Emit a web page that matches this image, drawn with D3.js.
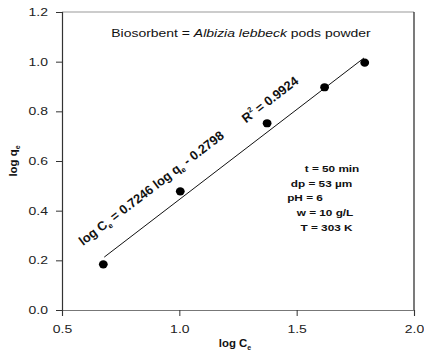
<!DOCTYPE html>
<html>
<head>
<meta charset="utf-8">
<script src="https://cdn.jsdelivr.net/npm/d3@7"></script>
<style>
  html, body { margin: 0; padding: 0; background: #fff; }
  svg { display: block; font-family: "Liberation Sans", Arial, sans-serif; }
</style>
</head>
<body>
<svg id="chart" width="424" height="356"></svg>
<script>
// Freundlich isotherm data: log Ce vs log qe
const logCe = [0.676, 1.004, 1.374, 1.619, 1.790];
const logQe = [0.184, 0.478, 0.752, 0.897, 0.996];

// Linear fit parameters as stated in the equation label
const fitSlope = 0.7246;
const fitIntercept = -0.2798;
const fitR2 = 0.9924;
const fitRange = [0.68, 1.787];

const xTicks = [0.5, 1.0, 1.5, 2.0];
const yTicks = [0.0, 0.2, 0.4, 0.6, 0.8, 1.0, 1.2];

const conditions = ["t = 50 min", "dp = 53 \u00b5m", "pH = 6", "w = 10 g/L", "T = 303 K"];

const svg = d3.select("#chart");
const margin = { left: 62, right: 10, top: 12, bottom: 46 };
const W = 424, H = 356;
const SX = 1.37; // horizontal stretch used for the in-plot lettering

const x = d3.scaleLinear().domain([0.5, 2.0]).range([margin.left, W - margin.right]);
const y = d3.scaleLinear().domain([0.0, 1.2]).range([H - margin.bottom, margin.top]);

// Frame: top edge light grey, right edge dark
svg.append("line")
  .attr("x1", x(0.5)).attr("x2", x(2.0))
  .attr("y1", y(1.2)).attr("y2", y(1.2))
  .attr("stroke", "#999").attr("stroke-width", 1);
svg.append("line")
  .attr("x1", x(2.0)).attr("x2", x(2.0))
  .attr("y1", y(1.2)).attr("y2", y(0))
  .attr("stroke", "#222").attr("stroke-width", 1.2);

// Axes
const xAxis = svg.append("g")
  .attr("transform", `translate(0,${y(0)})`)
  .call(d3.axisBottom(x).tickValues(xTicks).tickFormat(d3.format(".1f")).tickSize(6));
const yAxis = svg.append("g")
  .attr("transform", `translate(${x(0.5)},0)`)
  .call(d3.axisLeft(y).tickValues(yTicks).tickFormat(d3.format(".1f")).tickSize(6));

[xAxis, yAxis].forEach(g => {
  g.selectAll(".tick line").attr("stroke", "#333").attr("stroke-width", 1);
  g.selectAll(".tick text")
    .attr("fill", "#222")
    .style("font-family", "'Liberation Sans', Arial, sans-serif")
    .style("font-size", "10.2px");
});
xAxis.select(".domain").attr("stroke", "#777").attr("stroke-width", 1.2);
yAxis.select(".domain").attr("stroke", "#333").attr("stroke-width", 1.2);

// Widen tick labels around their anchor points
xAxis.selectAll(".tick text")
  .attr("y", null).attr("dy", null)
  .attr("transform", `translate(0,23) scale(${SX},1)`);
yAxis.selectAll(".tick text")
  .attr("x", null).attr("dy", null)
  .attr("transform", `translate(-14,3.6) scale(${SX},1)`);

// Axis titles
const xTitle = svg.append("text")
  .attr("x", 235).attr("y", 347)
  .attr("text-anchor", "middle")
  .attr("font-weight", "bold").attr("font-size", 11.4).attr("fill", "#111");
xTitle.append("tspan").text("log C");
xTitle.append("tspan").text("e").attr("font-size", 7).attr("dy", 2.5);

const yTitle = svg.append("text")
  .attr("transform", `translate(17,${y(0.6)}) rotate(-90)`)
  .attr("text-anchor", "middle")
  .attr("font-weight", "bold").attr("font-size", 11.4).attr("fill", "#111");
yTitle.append("tspan").text("log q");
yTitle.append("tspan").text("e").attr("font-size", 7).attr("dy", 2.5);

// Title line inside the plot
const title = svg.append("text")
  .attr("transform", `translate(241,36.5) scale(${SX},1)`)
  .attr("text-anchor", "middle")
  .attr("font-size", 10.2).attr("fill", "#111");
title.append("tspan").text("Biosorbent = ");
title.append("tspan").text("Albizia lebbeck").attr("font-style", "italic");
title.append("tspan").text(" pods powder");

// Regression line
const fitLine = d3.line()
  .x(d => x(d))
  .y(d => y(fitSlope * d + fitIntercept));
svg.append("path")
  .datum(fitRange)
  .attr("d", fitLine)
  .attr("fill", "none")
  .attr("stroke", "#111")
  .attr("stroke-width", 1);

// Data points
svg.append("g").selectAll("ellipse")
  .data(logCe.map((c, i) => [c, logQe[i]]))
  .join("ellipse")
  .attr("cx", d => x(d[0]))
  .attr("cy", d => y(d[1]))
  .attr("rx", 4.4).attr("ry", 4.1)
  .attr("fill", "#000");

// Rotated equation and R² labels parallel to the fitted line
const angle = Math.atan2(y(fitSlope) - y(0), x(1) - x(0)) * 180 / Math.PI;

const eq = svg.append("text")
  .attr("transform", `translate(83,246) rotate(${angle})`)
  .attr("font-weight", "bold").attr("font-size", 12.8).attr("fill", "#111");
eq.append("tspan").text("log C");
eq.append("tspan").text("e").attr("font-size", 7.5).attr("dy", 3);
eq.append("tspan").text(" = " + fitSlope + " log q").attr("dy", -3);
eq.append("tspan").text("e").attr("font-size", 7.5).attr("dy", 3);
eq.append("tspan").text(" - " + (-fitIntercept).toFixed(4)).attr("dy", -3);

const r2 = svg.append("text")
  .attr("transform", `translate(246,123.5) rotate(${angle})`)
  .attr("font-weight", "bold").attr("font-size", 12.8).attr("fill", "#111");
r2.append("tspan").text("R");
r2.append("tspan").text("2").attr("font-size", 7.5).attr("dy", -6);
r2.append("tspan").text(" = " + fitR2).attr("dy", 6);

// Experimental conditions block
const condX = [332, 321.5, 305, 325, 326.5];
const condY = [171.5, 186.5, 200.5, 215.5, 230.5];
svg.append("g").selectAll("text")
  .data(conditions)
  .join("text")
  .attr("transform", (d, i) => `translate(${condX[i]},${condY[i]}) scale(${SX},1)`)
  .attr("text-anchor", "middle")
  .attr("font-weight", "bold").attr("font-size", 8.6).attr("fill", "#111")
  .text(d => d);
</script>
</body>
</html>
